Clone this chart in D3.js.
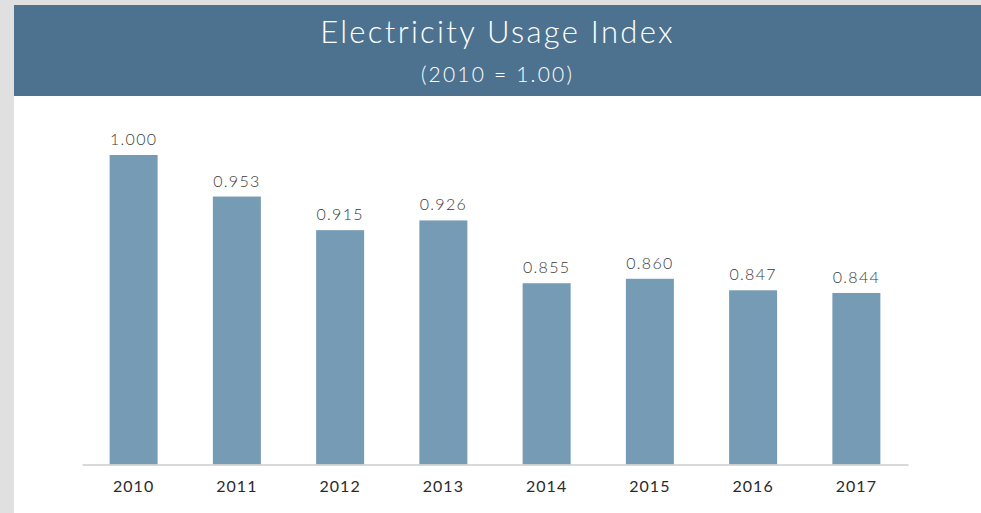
<!DOCTYPE html>
<html>
<head>
<meta charset="utf-8">
<script src="https://cdn.jsdelivr.net/npm/d3@7"></script>
<style>
  html, body { margin: 0; padding: 0; background: #e0e0e0; }
  svg { display: block; }
</style>
</head>
<body>
<svg id="chart"></svg>
<script>
const years = ["2010", "2011", "2012", "2013", "2014", "2015", "2016", "2017"];
const usageIndex = [1.000, 0.953, 0.915, 0.926, 0.855, 0.860, 0.847, 0.844];
const titleText = "Electricity Usage Index";
const subtitleText = "(2010 = 1.00)";

const svgWidth = 981,
    svgHeight = 513;

const panel = {left: 14, top: 5, bannerHeight: 91};
const plot = {left: 82, right: 908, top: 155, bottom: 464.5};

const chart = d3.select('#chart')
    .attr("width", svgWidth)
    .attr("height", svgHeight);

// page background + white panel
chart.append("rect")
    .attr("x", 0).attr("y", 0)
    .attr("width", svgWidth).attr("height", svgHeight)
    .attr("fill", "#e0e0e0");

chart.append("rect")
    .attr("x", panel.left).attr("y", panel.top)
    .attr("width", svgWidth - panel.left).attr("height", svgHeight - panel.top)
    .attr("fill", "#ffffff");

// title banner
chart.append("rect")
    .attr("x", panel.left).attr("y", panel.top)
    .attr("width", svgWidth - panel.left).attr("height", panel.bannerHeight)
    .attr("fill", "#4d7290");

const midX = (panel.left + svgWidth) / 2;

chart.append("text")
    .attr("x", midX)
    .attr("y", 43)
    .attr("text-anchor", "middle")
    .style("font-family", "Lato, sans-serif")
    .style("font-weight", 300)
    .style("font-size", "31px")
    .style("letter-spacing", "2.3px")
    .attr("fill", "#ffffff")
    .text(titleText);

chart.append("text")
    .attr("x", midX)
    .attr("y", 82)
    .attr("text-anchor", "middle")
    .style("font-family", "Lato, sans-serif")
    .style("font-weight", 300)
    .style("font-size", "21px")
    .style("letter-spacing", "2.2px")
    .attr("fill", "#ffffff")
    .text(subtitleText);

// scales
var xScale = d3.scaleBand()
    .domain(years)
    .range([plot.left, plot.right])
    .paddingInner(0.535)
    .paddingOuter(0.2675);

var yScale = d3.scaleLinear()
    .domain([0.65, 1.0])
    .range([plot.bottom, plot.top]);

const data = years.map((y, i) => ({year: y, value: usageIndex[i]}));

// bars
chart.append("g")
    .selectAll("rect")
    .data(data)
    .enter().append("rect")
    .attr("x", d => xScale(d.year))
    .attr("y", d => yScale(d.value))
    .attr("width", xScale.bandwidth())
    .attr("height", d => yScale.range()[0] - yScale(d.value))
    .attr("fill", "#769bb5");

// value labels
var formatValue = d3.format(".3f");
chart.append("g")
    .selectAll("text")
    .data(data)
    .enter().append("text")
    .attr("x", d => xScale(d.year) + xScale.bandwidth() / 2)
    .attr("y", d => yScale(d.value) - 10)
    .attr("text-anchor", "middle")
    .style("font-family", "Lato, sans-serif")
    .style("font-weight", 300)
    .style("font-size", "16px")
    .style("letter-spacing", "1.3px")
    .attr("fill", "#3a3a3a")
    .text(d => formatValue(d.value));

// x axis
var xAxis = d3.axisBottom(xScale).tickSize(0).tickPadding(16);
const axisG = chart.append("g")
    .attr("transform", "translate(0," + plot.bottom + ")")
    .call(xAxis);

axisG.select(".domain")
    .attr("stroke", "#cccccc")
    .attr("stroke-width", 1.5);

axisG.selectAll("text")
    .style("font-family", "Lato, sans-serif")
    .style("font-weight", 400)
    .style("font-size", "16px")
    .style("letter-spacing", "1px")
    .attr("fill", "#2a2a2a");
</script>
</body>
</html>
